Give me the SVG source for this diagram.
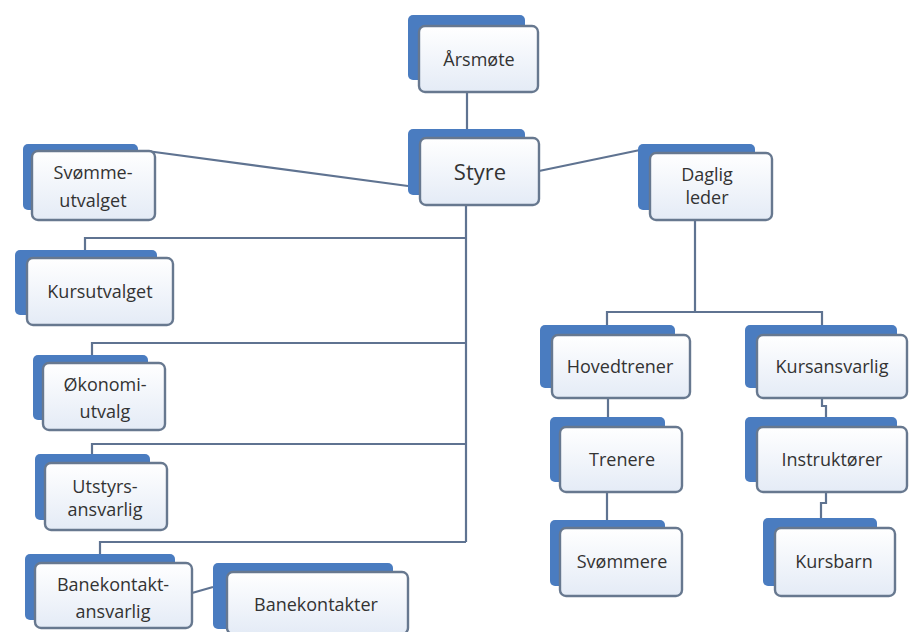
<svg xmlns="http://www.w3.org/2000/svg" width="916" height="632" viewBox="0 0 916 632">
<defs>
<linearGradient id="fg" x1="0" y1="0" x2="0" y2="1">
<stop offset="0" stop-color="#ffffff"/>
<stop offset="1" stop-color="#e4ebf6"/>
</linearGradient>
</defs>
<style>
.back{fill:#4a7cc0;}
.front{fill:url(#fg);stroke:#67788f;stroke-width:2.4;}
.lbl{font-family:"Open Sans","Liberation Sans",sans-serif;font-size:18px;font-weight:500;fill:#333;text-anchor:middle;}
.big{font-size:22px;}
.conn{fill:none;stroke:#5f7391;stroke-width:2.2;}
</style>
<rect width="916" height="632" fill="#ffffff"/>
<g id="connectors">
<path class="conn" d="M467 92V129"/>
<path class="conn" d="M408 186L147 151"/>
<path class="conn" d="M539 171L640 150"/>
<path class="conn" d="M466 205V542"/>
<path class="conn" d="M466 238H85V250"/>
<path class="conn" d="M466 343H92V355"/>
<path class="conn" d="M466 444H92V454"/>
<path class="conn" d="M466 542H100V554"/>
<path class="conn" d="M695 220V312"/>
<path class="conn" d="M607 325V312H822V325"/>
<path class="conn" d="M608 398V417"/>
<path class="conn" d="M607 492V520"/>
<path class="conn" d="M822 398V406H826V417"/>
<path class="conn" d="M826 492V503H821V518"/>
<path class="conn" d="M192 593L213 587"/>
</g>
<g id="arsmote"><rect class="back" x="408" y="15" width="117" height="65" rx="5"/><rect class="front" x="419" y="26" width="119" height="66" rx="6"/><text class="lbl" x="479" y="66">Årsmøte</text></g>
<g id="styre"><rect class="back" x="408" y="129" width="117" height="66" rx="5"/><rect class="front" x="420" y="138" width="119" height="67" rx="6"/><text class="lbl big" x="480" y="180">Styre</text></g>
<g id="svommeutvalget"><rect class="back" x="23" y="144" width="115" height="66" rx="5"/><rect class="front" x="32" y="151" width="123" height="69" rx="6"/><text class="lbl" x="93" y="179">Svømme-</text><text class="lbl" x="93" y="207">utvalget</text></g>
<g id="dagligleder"><rect class="back" x="638" y="144" width="117" height="66" rx="5"/><rect class="front" x="650" y="153" width="122" height="67" rx="6"/><text class="lbl" x="707" y="181">Daglig</text><text class="lbl" x="707" y="204">leder</text></g>
<g id="kursutvalget"><rect class="back" x="15" y="250" width="142" height="65" rx="5"/><rect class="front" x="27" y="258" width="146" height="67" rx="6"/><text class="lbl" x="100" y="298">Kursutvalget</text></g>
<g id="okonomiutvalg"><rect class="back" x="33" y="355" width="115" height="65" rx="5"/><rect class="front" x="43" y="363" width="122" height="67" rx="6"/><text class="lbl" x="105" y="391">Økonomi-</text><text class="lbl" x="105" y="418">utvalg</text></g>
<g id="utstyrsansvarlig"><rect class="back" x="35" y="454" width="115" height="66" rx="5"/><rect class="front" x="45" y="463" width="122" height="67" rx="6"/><text class="lbl" x="105" y="493">Utstyrs-</text><text class="lbl" x="105" y="516">ansvarlig</text></g>
<g id="banekontaktansvarlig"><rect class="back" x="25" y="554" width="150" height="66" rx="5"/><rect class="front" x="35" y="563" width="157" height="65" rx="6"/><text class="lbl" x="113" y="591">Banekontakt-</text><text class="lbl" x="113" y="618">ansvarlig</text></g>
<g id="banekontakter"><rect class="back" x="213" y="563" width="180" height="66" rx="5"/><rect class="front" x="227" y="572" width="181" height="62" rx="6"/><text class="lbl" x="316" y="611">Banekontakter</text></g>
<g id="hovedtrener"><rect class="back" x="540" y="325" width="135" height="63" rx="5"/><rect class="front" x="552" y="335" width="138" height="63" rx="6"/><text class="lbl" x="620" y="373">Hovedtrener</text></g>
<g id="kursansvarlig"><rect class="back" x="745" y="325" width="152" height="63" rx="5"/><rect class="front" x="757" y="335" width="150" height="63" rx="6"/><text class="lbl" x="832" y="373">Kursansvarlig</text></g>
<g id="trenere"><rect class="back" x="550" y="417" width="115" height="65" rx="5"/><rect class="front" x="560" y="427" width="122" height="65" rx="6"/><text class="lbl" x="622" y="466">Trenere</text></g>
<g id="instruktorer"><rect class="back" x="745" y="417" width="152" height="65" rx="5"/><rect class="front" x="757" y="427" width="150" height="65" rx="6"/><text class="lbl" x="832" y="466">Instruktører</text></g>
<g id="svommere"><rect class="back" x="550" y="520" width="115" height="66" rx="5"/><rect class="front" x="560" y="528" width="122" height="68" rx="6"/><text class="lbl" x="622" y="568">Svømmere</text></g>
<g id="kursbarn"><rect class="back" x="763" y="518" width="114" height="68" rx="5"/><rect class="front" x="775" y="528" width="120" height="68" rx="6"/><text class="lbl" x="834" y="568">Kursbarn</text></g>
</svg>
